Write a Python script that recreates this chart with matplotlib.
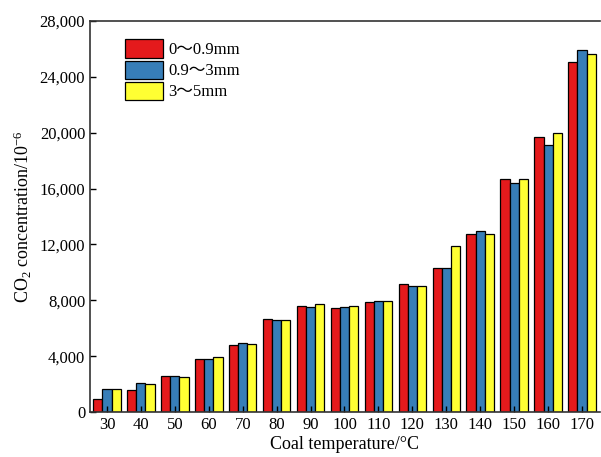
import numpy as np
import matplotlib
matplotlib.use("Agg")
import matplotlib.pyplot as plt

plt.rcParams.update({
    "font.family": ["Liberation Serif", "Noto Sans CJK SC"],
    "mathtext.fontset": "custom",
    "mathtext.rm": "Liberation Serif",
    "mathtext.it": "Liberation Serif:italic",
    "font.size": 12,
})

temps = ["30", "40", "50", "60", "70", "80", "90", "100", "110", "120",
         "130", "140", "150", "160", "170"]
size_0_09 = [930, 1600, 2600, 3820, 4780, 6690, 7620, 7450, 7860, 9190,
             10290, 12770, 16670, 19720, 25050]
size_09_3 = [1670, 2100, 2550, 3770, 4920, 6570, 7520, 7540, 7930, 9050,
             10290, 12970, 16380, 19130, 25950]
size_3_5 = [1650, 2030, 2510, 3920, 4870, 6610, 7720, 7610, 7930, 9050,
            11910, 12770, 16670, 19960, 25670]
labels = ["0～0.9mm", "0.9～3mm", "3～5mm"]
colors = ["#e41a1c", "#377eb8", "#ffff33"]

fig = plt.figure(figsize=(6.01, 4.57), dpi=100)
ax = fig.add_axes([90 / 601, 45 / 457, 510 / 601, 391 / 457])

x = np.arange(len(temps))
w = 0.27
for i, (vals, lab, col) in enumerate(zip([size_0_09, size_09_3, size_3_5], labels, colors)):
    ax.bar(x + (i - 1) * w, vals, width=w, color=col, edgecolor="black",
           linewidth=0.9, label=lab)

ax.set_xlim(-0.5, 14.53)
ax.set_ylim(0, 28000)
ax.set_yticks(np.arange(0, 28001, 4000))
ax.set_yticklabels([f"{v:,}" for v in range(0, 28001, 4000)])
ax.set_xticks(x)
ax.set_xticklabels(temps)
ax.tick_params(direction="in", length=4, width=1, labelsize=12)
ax.spines["right"].set_visible(False)
for s in ["left", "bottom", "top"]:
    ax.spines[s].set_linewidth(1.2)
    ax.spines[s].set_color("#333333")

ax.set_xlabel("Coal temperature/°C", fontsize=13, labelpad=2)
ax.set_ylabel("CO$_2$ concentration/10$^{-6}$", fontsize=13, labelpad=4)

leg = ax.legend(loc="upper left", bbox_to_anchor=(0.055, 0.97), frameon=False,
                fontsize=12, handlelength=2.3, handleheight=1.3,
                handletextpad=0.3, labelspacing=0.15, borderaxespad=0)

fig.savefig("out.png", dpi=100)
